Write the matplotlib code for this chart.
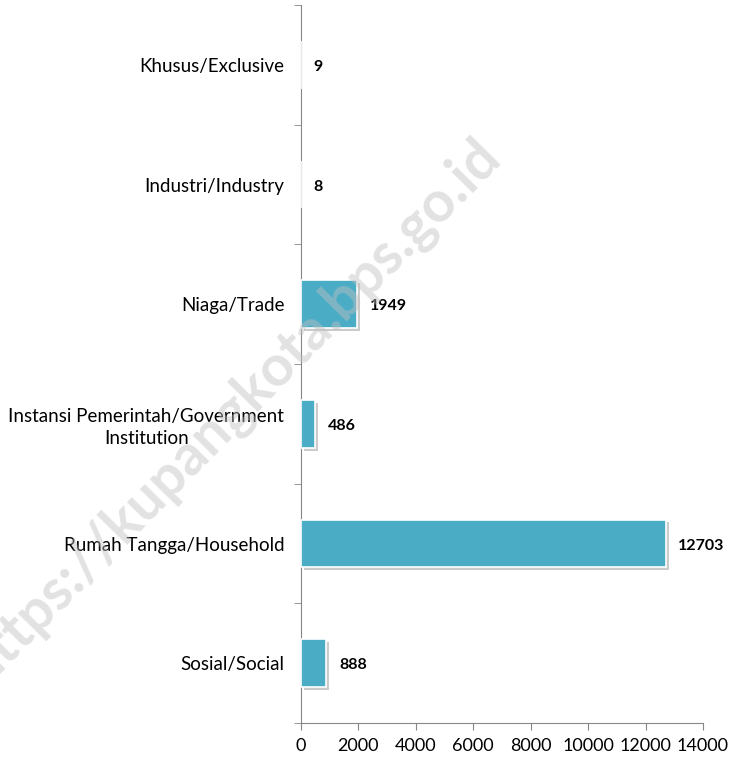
import matplotlib.pyplot as plt
import matplotlib.patheffects as pe

categories = ["Sosial/Social", "Rumah Tangga/Household",
              "Instansi Pemerintah/Government\nInstitution", "Niaga/Trade",
              "Industri/Industry", "Khusus/Exclusive"]
values = [888, 12703, 486, 1949, 8, 9]
xticks = [0, 2000, 4000, 6000, 8000, 10000, 12000, 14000]

plt.rcParams['font.family'] = ['Lato', 'DejaVu Sans']

fig = plt.figure(figsize=(7.32, 7.61), dpi=100)
ax = fig.add_axes([0.4112, 0.0499, 0.5492, 0.9435])

pos = list(range(len(categories)))
bars = ax.barh(pos, values, height=0.4, color="#4BACC6", edgecolor="white",
               linewidth=1.2, zorder=3,
               path_effects=[pe.SimplePatchShadow(offset=(2, -2), shadow_rgbFace="#999999", alpha=0.5), pe.Normal()])

for p, v in zip(pos, values):
    ax.annotate(str(v), (v, p), xytext=(9, -1.5), textcoords="offset points",
                ha="left", va="center", fontsize=11.5, fontweight="bold")

ax.set_xlim(0, 14000)
ax.set_ylim(-0.5, len(categories) - 0.5)
ax.set_xticks(xticks)
ax.set_xticklabels([str(t) for t in xticks], fontsize=13)
ax.set_yticks(pos)
ax.set_yticklabels(categories, fontsize=13.5)
ax.set_yticks([p + 0.5 for p in range(-1, len(categories))], minor=True)
ax.tick_params(axis="y", which="major", length=0, pad=12)
ax.tick_params(axis="y", which="minor", length=5, color="#868686", direction="out")
ax.tick_params(axis="x", length=5, color="#868686", pad=6)
for lbl in ax.get_yticklabels():
    lbl.set_multialignment("center")
    lbl.set_linespacing(1.35)

for s in ["top", "right"]:
    ax.spines[s].set_visible(False)
for s in ["left", "bottom"]:
    ax.spines[s].set_color("#868686")

fig.text(0.317, 0.459, "https://kupangkota.bps.go.id", fontsize=41, fontweight="bold",
         color="#c0c0c0", alpha=0.45, rotation=45.5, ha="center", va="center", zorder=5)

plt.savefig("out.png", dpi=100)
